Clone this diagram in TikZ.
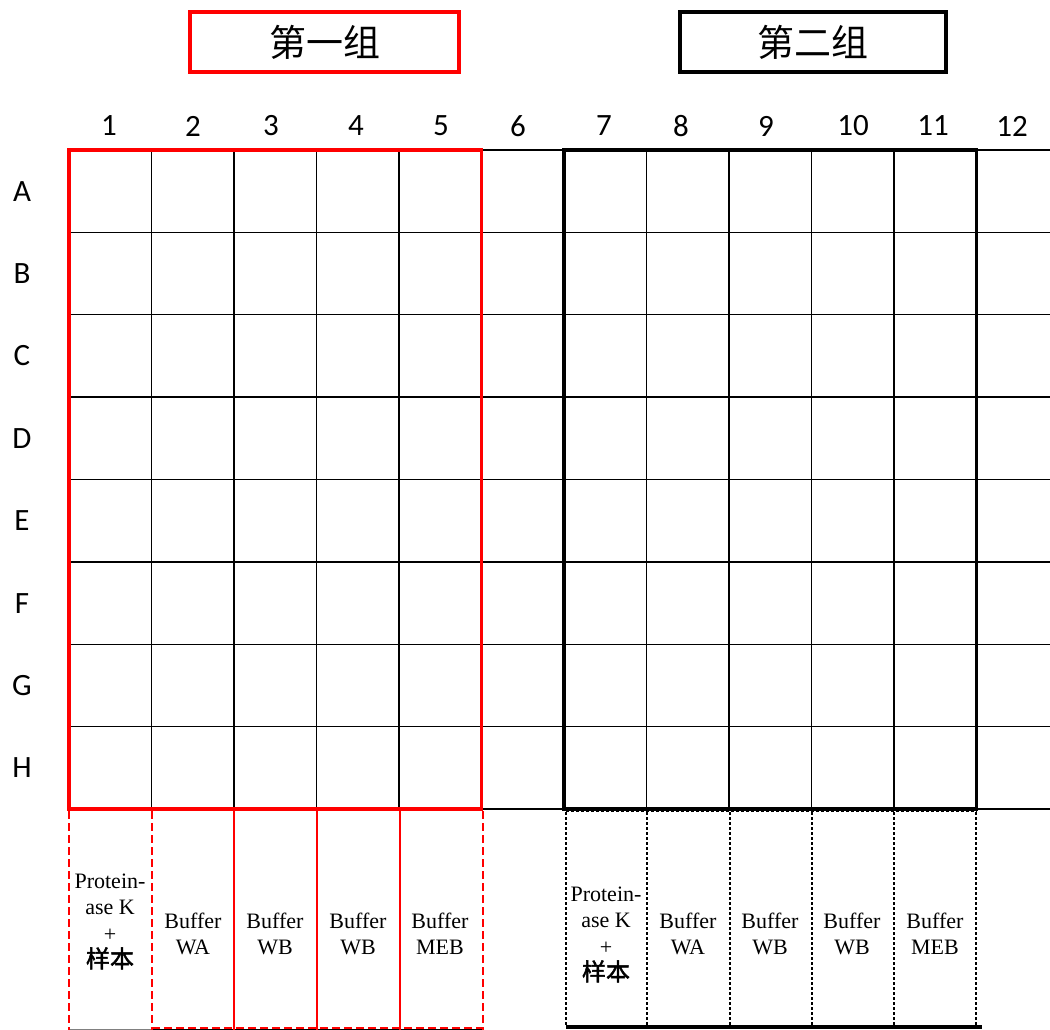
\documentclass[tikz,border=0pt]{standalone}
\usepackage{fontspec}
\setmainfont{Liberation Serif}
\newfontfamily\numfont{Carlito}
\newfontfamily\cjkfont{Noto Sans CJK SC}
\newfontfamily\cjkbold[FakeBold=2]{Noto Sans CJK SC}
\definecolor{myred}{RGB}{255,0,0}
\begin{document}
\begin{tikzpicture}[x=1pt,y=-1pt,
  gridline/.style={line width=1.3pt,black},
  redborder/.style={line width=3.5pt,myred},
  blackborder/.style={line width=3.5pt,black},
  reddash/.style={line width=2.5pt,myred,dash pattern=on 8pt off 4pt},
  redsolid/.style={line width=2.5pt,myred},
  blackdot/.style={line width=2.5pt,black,dash pattern=on 2.5pt off 2.5pt},
  numlabel/.style={font=\numfont\fontsize{31}{31}\selectfont,inner sep=0pt},
  titlebox/.style={draw,line width=3.5pt,minimum width=#1,minimum height=60pt,inner sep=0pt,
    font=\cjkfont\fontsize{37}{40}\selectfont},
  bufftext/.style={align=center,inner sep=0pt,font=\fontsize{22}{26.5}\selectfont}]
\useasboundingbox (0,0) rectangle (1050,1030);
\clip (0,0) rectangle (1050,1030);
\fill[white] (0,0) rectangle (1050,1030);

% titles
\node[titlebox=269pt,draw=myred] (g1) at (324.5,42) {第一组};
\node[titlebox=266pt,draw=black] (g2) at (813,42) {第二组};

% grid
\foreach \k in {0,...,12}
  \draw[gridline] ({69+82.5*\k},150) -- ({69+82.5*\k},809);
\foreach \r in {0,...,8}
  \draw[gridline] (69,{150+82.375*\r}) -- (1059,{150+82.375*\r});

% column numbers
\foreach \n/\x in {1/109,2/193,3/271,4/356,5/441,6/518,7/604,8/681,9/766,10/853,11/933,12/1012}
  \node[numlabel] (c\n) at (\x,126) {\n};
% row letters
\foreach \l [count=\i from 0] in {A,B,C,D,E,F,G,H}
  \node[numlabel] (r\l) at (22,{191.2+82.375*\i}) {\l};

% group borders
\draw[redborder] (69,150) rectangle (481.5,809);
\draw[blackborder] (564,150) rectangle (976.5,809);

% lower left (group 1)
\draw[line width=1pt,black!50] (69,1029.5) -- (152,1029.5);
\draw[line width=1.5pt,black] (152,1029.5) -- (483,1029.5);
\draw[reddash] (152,1028) -- (483,1028);
\foreach \x in {69,152,483}
  \draw[reddash] (\x,811) -- (\x,1030);
\foreach \x in {234,317,400}
  \draw[redsolid] (\x,811) -- (\x,1030);

% lower right (group 2)
\draw[blackdot] (566,811) -- (977,811);
\foreach \x in {566,647,730,812,894,976}
  \draw[blackdot] (\x,812) -- (\x,1025);
\draw[line width=3.5pt,black] (566,1027) -- (982,1027);

% texts group 1
\node[bufftext] (p1) at (110,921.5) {Protein-\\ase K\\+\\{\cjkbold\fontsize{24}{26.5}\selectfont 样本}};
\node[bufftext] (b12) at (193,934) {Buffer\\WA};
\node[bufftext] (b13) at (275,934) {Buffer\\WB};
\node[bufftext] (b14) at (358,934) {Buffer\\WB};
\node[bufftext] (b15) at (440,934) {Buffer\\MEB};

% texts group 2
\node[bufftext] (p2) at (606,934.5) {Protein-\\ase K\\+\\{\cjkbold\fontsize{24}{26.5}\selectfont 样本}};
\node[bufftext] (b22) at (688,934) {Buffer\\WA};
\node[bufftext] (b23) at (770,934) {Buffer\\WB};
\node[bufftext] (b24) at (852,934) {Buffer\\WB};
\node[bufftext] (b25) at (935,934) {Buffer\\MEB};
\end{tikzpicture}
\end{document}
